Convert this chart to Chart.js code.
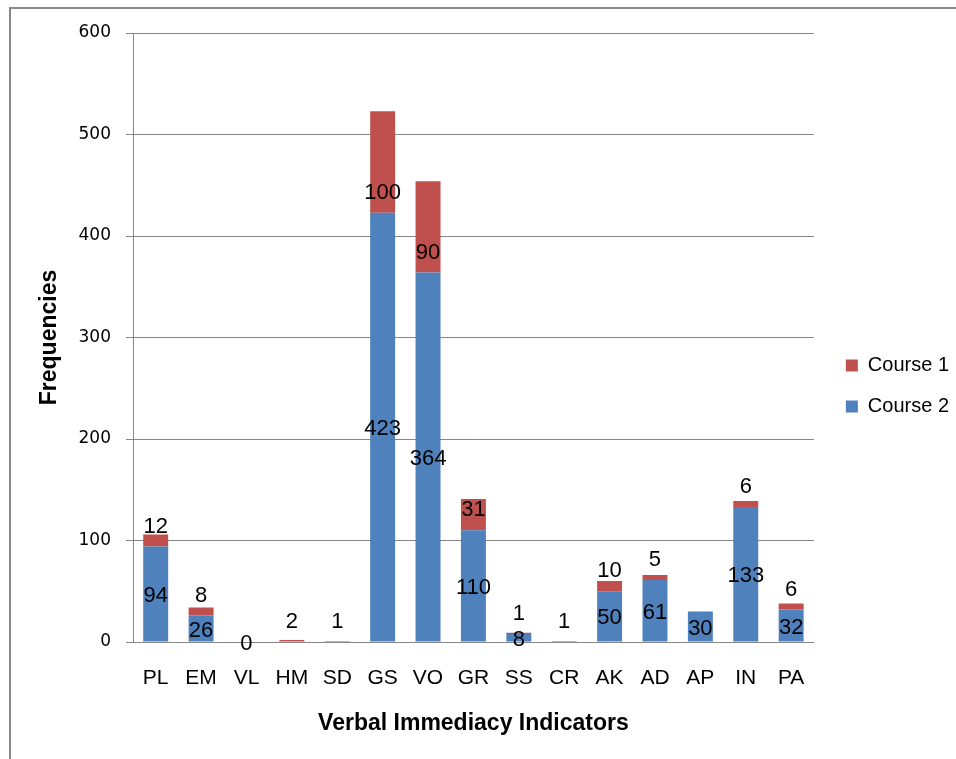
<!DOCTYPE html>
<html>
<head>
<meta charset="utf-8">
<script src="https://cdn.jsdelivr.net/npm/chart.js@4/dist/chart.umd.min.js"></script>
<style>
  html, body { margin: 0; padding: 0; background: #ffffff; overflow: hidden; }
  #wrap { position: relative; width: 956px; height: 759px; }
  #frame {
    position: absolute; left: 9px; top: 7px; width: 960px; height: 760px;
    border-left: 2px solid #898989; border-top: 2px solid #898989; box-sizing: border-box;
  }
  canvas { position: absolute; left: 0; top: 0; }
</style>
</head>
<body>
<div id="wrap">
  <div id="frame"></div>
  <canvas id="chart" width="956" height="759"></canvas>
</div>
<script>
// Verbal immediacy indicator counts per course
const categories = ['PL', 'EM', 'VL', 'HM', 'SD', 'GS', 'VO', 'GR', 'SS', 'CR', 'AK', 'AD', 'AP', 'IN', 'PA'];
const course2 = [94, 26, 0, null, null, 423, 364, 110, 8, null, 50, 61, 30, 133, 32];
const course1 = [12, 8, null, 2, 1, 100, 90, 31, 1, 1, 10, 5, null, 6, 6];
const yTickValues = [0, 100, 200, 300, 400, 500, 600];

const BLUE = '#4F81BD';
const RED = '#C0504D';
const AXIS_GREY = '#868686';

// Value labels: Course 2 centred in its segment, Course 1 just above the Course 2 segment
const valueLabels = {
  id: 'valueLabels',
  afterDatasetsDraw(chart) {
    const ctx = chart.ctx;
    ctx.save();
    ctx.font = '22px "Liberation Sans", Arial, sans-serif';
    ctx.fillStyle = '#000000';
    ctx.textAlign = 'center';
    ctx.textBaseline = 'middle';
    chart.data.datasets.forEach((ds, di) => {
      const meta = chart.getDatasetMeta(di);
      meta.data.forEach((bar, i) => {
        const v = ds.data[i];
        if (v === null || v === undefined) return;
        const y = ds.labelPlacement === 'aboveBase'
          ? bar.base - 20
          : (bar.y + bar.base) / 2 + 2;
        ctx.fillText(String(v), bar.x, y);
      });
    });
    ctx.restore();
  }
};

// Keep the legend a little to the right of the plot edge
const legendNudge = {
  id: 'legendNudge',
  afterLayout(chart) {
    if (chart.legend) {
      chart.legend.left += 11;
      chart.legend.right += 11;
    }
  }
};

new Chart(document.getElementById('chart'), {
  type: 'bar',
  data: {
    labels: categories,
    datasets: [
      { label: 'Course 2', data: course2, backgroundColor: BLUE, borderWidth: 0, labelPlacement: 'center' },
      { label: 'Course 1', data: course1, backgroundColor: RED, borderWidth: 0, labelPlacement: 'aboveBase' }
    ]
  },
  options: {
    responsive: false,
    devicePixelRatio: 1,
    animation: false,
    layout: { padding: { top: 33, left: 0, right: 8, bottom: 20 } },
    datasets: { bar: { categoryPercentage: 1.0, barPercentage: 0.55 } },
    plugins: {
      tooltip: { enabled: false },
      legend: {
        position: 'right',
        reverse: true,
        labels: {
          boxWidth: 12,
          boxHeight: 12,
          padding: 21,
          color: '#000000',
          font: { family: '"Liberation Sans", Arial, sans-serif', size: 20 }
        }
      }
    },
    scales: {
      x: {
        stacked: true,
        offset: true,
        grid: { display: false, drawTicks: false },
        border: { display: true, color: AXIS_GREY, width: 1 },
        ticks: {
          color: '#000000',
          padding: 24,
          maxRotation: 0,
          autoSkip: false,
          font: { family: '"Liberation Sans", Arial, sans-serif', size: 21 }
        },
        title: {
          display: true,
          text: 'Verbal Immediacy Indicators',
          color: '#000000',
          padding: { top: 0, bottom: 2 },
          font: { family: '"Liberation Sans", Arial, sans-serif', size: 23, weight: 'bold' }
        },
        afterFit(scale) { scale.height = 97; }
      },
      y: {
        stacked: true,
        min: 0,
        max: 600,
        afterBuildTicks(scale) { scale.ticks = yTickValues.map(v => ({ value: v })); },
        grid: { color: AXIS_GREY, lineWidth: 1, drawTicks: true, tickLength: 7 },
        border: { display: true, color: AXIS_GREY, width: 1 },
        ticks: {
          color: '#000000',
          padding: 15,
          font: { family: '"DejaVu Sans", Verdana, sans-serif', size: 17 }
        },
        title: {
          display: true,
          text: 'Frequencies',
          color: '#000000',
          padding: { top: 36, bottom: 0 },
          font: { family: '"Liberation Sans", Arial, sans-serif', size: 23, weight: 'bold' }
        },
        afterFit(scale) { scale.width = 133; }
      }
    }
  },
  plugins: [valueLabels, legendNudge]
});
</script>
</body>
</html>
